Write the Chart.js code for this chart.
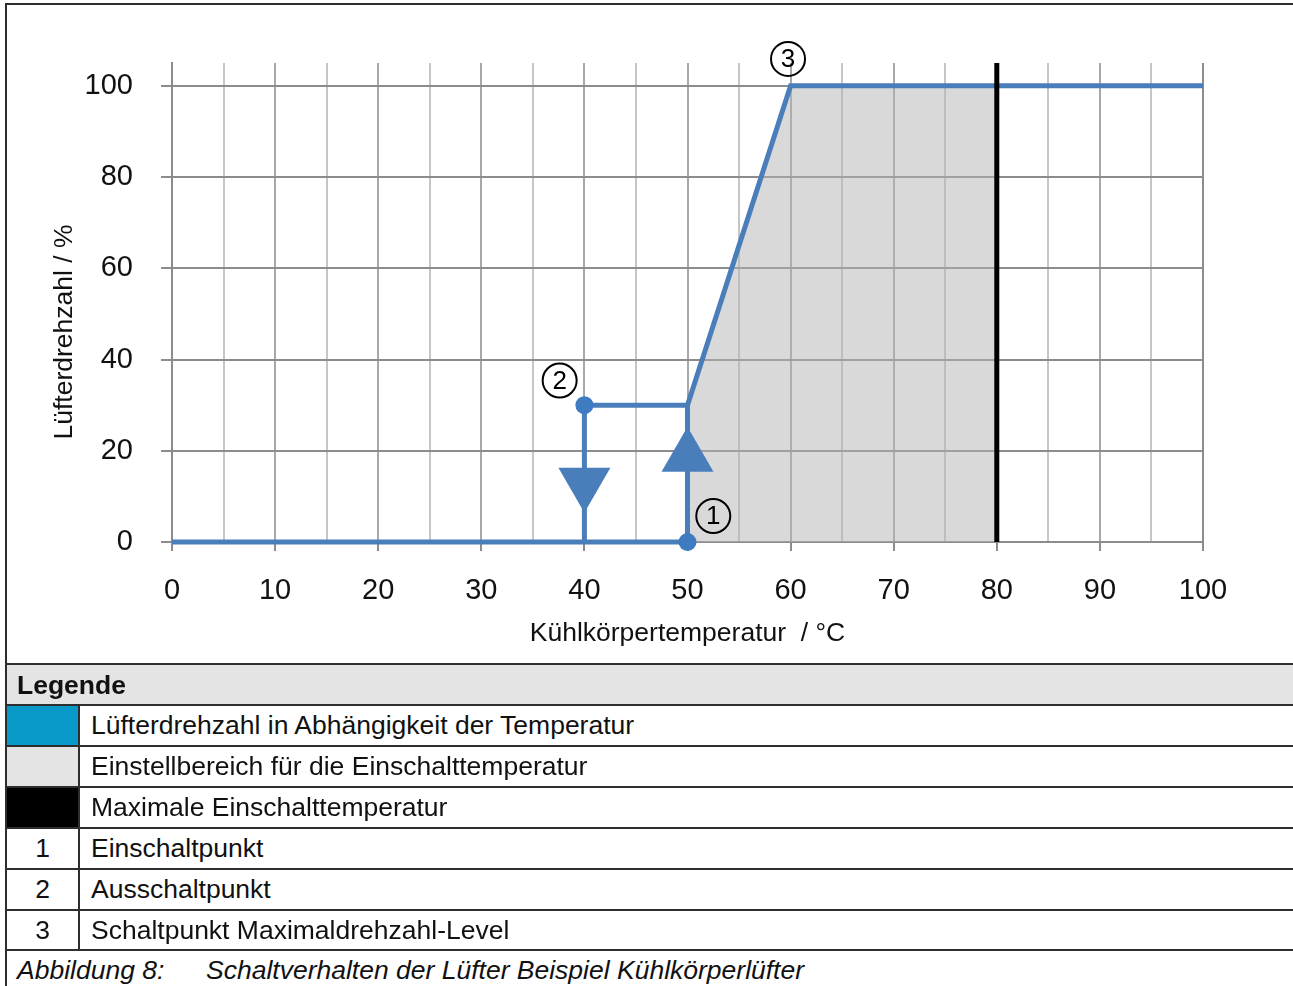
<!DOCTYPE html>
<html><head><meta charset="utf-8">
<script src="https://cdn.jsdelivr.net/npm/chart.js@4.4.0/dist/chart.umd.min.js"></script>
<style>
html,body{margin:0;padding:0;background:#fff;width:1293px;height:986px;overflow:hidden;font-family:'Liberation Sans',Arial,sans-serif;}
#wrap{position:absolute;left:0;top:0;width:1293px;height:662px;}
.hl{position:absolute;left:5px;width:1288px;height:2px;background:#2e2e2e;}
.vl{position:absolute;width:2px;background:#2e2e2e;}
.bg{position:absolute;}
.cell{position:absolute;display:flex;align-items:center;font-size:26.5px;color:#111;white-space:nowrap;}
</style></head><body>
<div id="wrap"><canvas id="c" width="1293" height="662"></canvas></div>

<!-- outer frame -->
<div class="hl" style="top:3px;left:5px;"></div>
<div class="vl" style="left:5px;top:3px;height:983px;"></div>

<!-- legend table -->
<div class="bg" style="left:7px;top:664px;width:1286px;height:41px;background:#e4e4e4;"></div>
<div class="bg" style="left:7px;top:705px;width:71px;height:41px;background:#0899c9;"></div>
<div class="bg" style="left:7px;top:746px;width:71px;height:41px;background:#e4e4e4;"></div>
<div class="bg" style="left:7px;top:787px;width:71px;height:41px;background:#000;"></div>

<div class="hl" style="top:663px;"></div>
<div class="hl" style="top:704px;"></div>
<div class="hl" style="top:745px;"></div>
<div class="hl" style="top:786px;"></div>
<div class="hl" style="top:827px;"></div>
<div class="hl" style="top:868px;"></div>
<div class="hl" style="top:909px;"></div>
<div class="hl" style="top:949px;"></div>
<div class="vl" style="left:78px;top:705px;height:245px;"></div>

<div class="cell" style="left:17px;top:666px;height:39px;font-weight:bold;">Legende</div>
<div class="cell" style="left:91px;top:706px;height:39px;">Lüfterdrehzahl in Abhängigkeit der Temperatur</div>
<div class="cell" style="left:91px;top:747px;height:39px;">Einstellbereich für die Einschalttemperatur</div>
<div class="cell" style="left:91px;top:788px;height:39px;">Maximale Einschalttemperatur</div>
<div class="cell" style="left:7px;width:71px;justify-content:center;top:829px;height:39px;">1</div>
<div class="cell" style="left:91px;top:829px;height:39px;">Einschaltpunkt</div>
<div class="cell" style="left:7px;width:71px;justify-content:center;top:870px;height:39px;">2</div>
<div class="cell" style="left:91px;top:870px;height:39px;">Ausschaltpunkt</div>
<div class="cell" style="left:7px;width:71px;justify-content:center;top:911px;height:39px;">3</div>
<div class="cell" style="left:91px;top:911px;height:39px;">Schaltpunkt Maximaldrehzahl-Level</div>
<div class="cell" style="left:17px;top:952px;height:36px;font-style:italic;">Abbildung 8:</div>
<div class="cell" style="left:206px;top:952px;height:36px;font-style:italic;">Schaltverhalten der Lüfter Beispiel Kühlkörperlüfter</div>

<script>
// ---- data ----
const curveX = [0, 50, 50, 60, 100];
const curveY = [0, 0, 30, 100, 100];
const offPathX = [40, 40, 50];
const offPathY = [0, 30, 30];
const pointsX = [40, 50];
const pointsY = [30, 0];
const rangeX = [50, 60, 80];
const rangeY = [30, 100, 100];
const maxTempX = [80, 80];
const maxTempY = [0, 105];
const arrowDownX = [40];
const arrowDownY = [13];
const arrowUpX = [50];
const arrowUpY = [18.7];
const xTickLabels = [0, 10, 20, 30, 40, 50, 60, 70, 80, 90, 100];
const yTickLabels = [0, 20, 40, 60, 80, 100];
const markerText = ['1', '2', '3'];
const markerX = [52.5, 37.6, 59.75];
const markerY = [5.7, 35.4, 105.9];
const yTitle = 'Lüfterdrehzahl / %';
const xTitle = 'Kühlkörpertemperatur  / °C';

const zip = (xs, ys) => xs.map((x, i) => ({x, y: ys[i]}));
const BLUE = '#4a7ebb';
const FONT = "'Liberation Sans', Arial, sans-serif";

Chart.defaults.font.family = FONT;

const markerPlugin = {
  id: 'markers',
  afterDatasetsDraw(chart) {
    const {ctx, scales: {x, y}} = chart;
    ctx.save();
    markerText.forEach((t, i) => {
      const px = x.getPixelForValue(markerX[i]);
      const py = y.getPixelForValue(markerY[i]);
      ctx.beginPath();
      ctx.arc(px, py, 17, 0, Math.PI * 2);
      ctx.lineWidth = 2;
      ctx.strokeStyle = '#000';
      ctx.stroke();
      ctx.fillStyle = '#000';
      ctx.font = "26px " + FONT;
      ctx.textAlign = 'center';
      ctx.textBaseline = 'middle';
      ctx.fillText(t, px, py + 1);
    });
    // y axis title (offset below the plot centre, as in the original)
    ctx.translate(65, 332);
    ctx.rotate(-Math.PI / 2);
    ctx.font = "26.5px " + FONT;
    ctx.fillStyle = '#111';
    ctx.textAlign = 'center';
    ctx.textBaseline = 'middle';
    ctx.fillText(yTitle, 0, 0);
    ctx.restore();
  }
};

new Chart(document.getElementById('c'), {
  type: 'scatter',
  data: {
    datasets: [
      {data: zip(rangeX, rangeY), showLine: true, borderWidth: 0, pointRadius: 0,
       backgroundColor: 'rgba(180,180,180,0.507)', fill: 'origin', order: 6},
      {data: zip(curveX, curveY), showLine: true, borderColor: BLUE, borderWidth: 5,
       pointRadius: 0, borderJoinStyle: 'miter', order: 4, clip: false},
      {data: zip(offPathX, offPathY), showLine: true, borderColor: BLUE, borderWidth: 5,
       pointRadius: 0, borderJoinStyle: 'miter', order: 4, clip: false},
      {data: zip(arrowDownX, arrowDownY), pointStyle: 'triangle', rotation: 180, pointRadius: 30,
       backgroundColor: BLUE, borderWidth: 0, order: 3, clip: false},
      {data: zip(arrowUpX, arrowUpY), pointStyle: 'triangle', rotation: 0, pointRadius: 30,
       backgroundColor: BLUE, borderWidth: 0, order: 3, clip: false},
      {data: zip(pointsX, pointsY), pointRadius: 9, backgroundColor: '#3f7bc0', borderWidth: 0,
       order: 2, clip: false},
      {data: zip(maxTempX, maxTempY), showLine: true, borderColor: '#000', borderWidth: 5,
       pointRadius: 0, borderCapStyle: 'butt', order: 1, clip: false}
    ]
  },
  options: {
    responsive: false,
    animation: false,
    devicePixelRatio: 1,
    layout: {padding: {top: 63, right: 90, left: 0, bottom: 0}},
    plugins: {legend: {display: false}, tooltip: {enabled: false}},
    scales: {
      x: {
        type: 'linear', min: 0, max: 100,
        afterFit: s => { s.height = 120; },
        ticks: {
          stepSize: 5, autoSkip: false, maxRotation: 0, padding: 23,
          color: '#111', font: {size: 29},
          callback: v => xTickLabels.includes(v) ? String(v) : ''
        },
        grid: {
          lineWidth: 2, tickLength: 9,
          color: c => (c.tick && (c.tick.value === 0 || c.tick.value === 100)) ? '#8c8c8c'
                    : (c.tick && c.tick.value % 10 === 0 ? '#a8a8a8' : '#c6c6c6'),
          tickColor: c => (c.tick && c.tick.value % 10 === 0) ? '#8c8c8c' : 'rgba(0,0,0,0)'
        },
        border: {display: true, color: '#8c8c8c', width: 2},
        title: {display: true, text: xTitle, color: '#111',
                font: {size: 26.5}, padding: {top: 0, bottom: 12}}
      },
      y: {
        type: 'linear', min: 0, max: 105,
        afterFit: s => { s.width = 172; },
        afterBuildTicks: s => { s.ticks = yTickLabels.map(v => ({value: v})); },
        ticks: {color: '#111', font: {size: 29}, padding: 28,
                callback: v => String(v)},
        grid: {lineWidth: 2, tickLength: 11, color: '#8c8c8c', tickColor: '#8c8c8c'},
        border: {display: true, color: '#8c8c8c', width: 2},
        title: {display: false}
      }
    }
  },
  plugins: [markerPlugin]
});
</script>
</body></html>
